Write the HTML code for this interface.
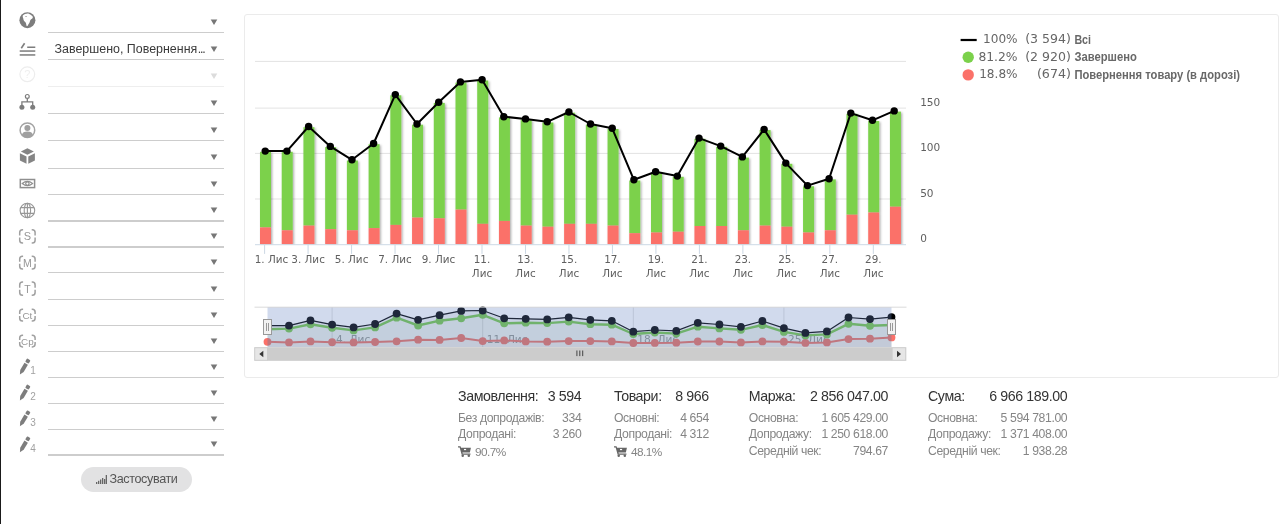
<!DOCTYPE html>
<html lang="uk"><head><meta charset="utf-8"><title>Статистика</title>
<style>
html,body{margin:0;padding:0;background:#fff}
body{width:1280px;height:524px;position:relative;overflow:hidden;font-family:"Liberation Sans",sans-serif;color:#333}
.edge{position:absolute;left:0;top:0;width:1px;height:524px;background:#1a1a1a}
.panel{position:absolute;left:244px;top:14px;width:1033px;height:362px;border:1px solid #ebebeb;border-radius:3px;background:#fff}
.ln{position:absolute;left:48px;width:176px;height:1.2px}
.ar{position:absolute;left:209.7px}
.sel{position:absolute;left:54.5px;top:40.5px;width:156px;font-size:12.45px;line-height:16px;color:#3a3a3a;white-space:nowrap;overflow:hidden}
.btn{position:absolute;left:81.2px;top:466.9px;width:110.7px;height:25.6px;border-radius:12.8px;background:#e2e2e3}
.btn span{position:absolute;left:28.3px;top:5.2px;letter-spacing:-0.38px;font-size:12.6px;line-height:14px;color:#555;white-space:nowrap}
.st{position:absolute;white-space:nowrap}
.h{font-size:14.2px;line-height:16px;color:#333;letter-spacing:-0.4px}
.s{font-size:12.2px;line-height:14px;color:#858585;letter-spacing:-0.38px}
.p{letter-spacing:-0.5px;font-size:11.8px;margin-top:0.8px}
.r{text-align:right}
.ic{position:absolute}
</style></head><body>
<div class="edge"></div>
<div class="panel"></div>
<svg width="1280" height="524" viewBox="0 0 1280 524" style="position:absolute;left:0;top:0">
<defs><filter id="sh" x="-50%" y="-10%" width="220%" height="120%"><feDropShadow dx="1.2" dy="1" stdDeviation="1.1" flood-color="#000" flood-opacity="0.33"/></filter></defs>
<rect x="255" y="60.9" width="651" height="1" fill="#e3e3e3"/>
<rect x="255" y="107.6" width="651" height="1" fill="#e3e3e3"/>
<rect x="255" y="152.9" width="651" height="1" fill="#e3e3e3"/>
<rect x="255" y="198.5" width="651" height="1" fill="#e3e3e3"/>
<clipPath id="pc"><rect x="250" y="55" width="660" height="189.70000000000002"/></clipPath><g clip-path="url(#pc)"><g filter="url(#sh)">
<rect x="260.00" y="151.8" width="11.0" height="75.6" fill="#7bd14b"/>
<rect x="260.00" y="227.4" width="11.0" height="16.9" fill="#fb7169"/>
<rect x="281.72" y="151.8" width="11.0" height="78.5" fill="#7bd14b"/>
<rect x="281.72" y="230.3" width="11.0" height="14.0" fill="#fb7169"/>
<rect x="303.44" y="127.2" width="11.0" height="98.4" fill="#7bd14b"/>
<rect x="303.44" y="225.6" width="11.0" height="18.7" fill="#fb7169"/>
<rect x="325.17" y="147.1" width="11.0" height="82.1" fill="#7bd14b"/>
<rect x="325.17" y="229.2" width="11.0" height="15.1" fill="#fb7169"/>
<rect x="346.89" y="160.5" width="11.0" height="69.8" fill="#7bd14b"/>
<rect x="346.89" y="230.3" width="11.0" height="14.0" fill="#fb7169"/>
<rect x="368.61" y="144.2" width="11.0" height="83.9" fill="#7bd14b"/>
<rect x="368.61" y="228.1" width="11.0" height="16.2" fill="#fb7169"/>
<rect x="390.33" y="95.3" width="11.0" height="129.6" fill="#7bd14b"/>
<rect x="390.33" y="224.9" width="11.0" height="19.4" fill="#fb7169"/>
<rect x="412.05" y="124.7" width="11.0" height="92.9" fill="#7bd14b"/>
<rect x="412.05" y="217.6" width="11.0" height="26.7" fill="#fb7169"/>
<rect x="433.78" y="102.9" width="11.0" height="115.4" fill="#7bd14b"/>
<rect x="433.78" y="218.3" width="11.0" height="26.0" fill="#fb7169"/>
<rect x="455.50" y="82.6" width="11.0" height="127.0" fill="#7bd14b"/>
<rect x="455.50" y="209.6" width="11.0" height="34.7" fill="#fb7169"/>
<rect x="477.22" y="80.5" width="11.0" height="143.3" fill="#7bd14b"/>
<rect x="477.22" y="223.8" width="11.0" height="20.5" fill="#fb7169"/>
<rect x="498.94" y="117.4" width="11.0" height="103.5" fill="#7bd14b"/>
<rect x="498.94" y="220.9" width="11.0" height="23.4" fill="#fb7169"/>
<rect x="520.66" y="119.6" width="11.0" height="106.0" fill="#7bd14b"/>
<rect x="520.66" y="225.6" width="11.0" height="18.7" fill="#fb7169"/>
<rect x="542.39" y="122.5" width="11.0" height="104.2" fill="#7bd14b"/>
<rect x="542.39" y="226.7" width="11.0" height="17.6" fill="#fb7169"/>
<rect x="564.11" y="112.7" width="11.0" height="111.1" fill="#7bd14b"/>
<rect x="564.11" y="223.8" width="11.0" height="20.5" fill="#fb7169"/>
<rect x="585.83" y="124.7" width="11.0" height="99.1" fill="#7bd14b"/>
<rect x="585.83" y="223.8" width="11.0" height="20.5" fill="#fb7169"/>
<rect x="607.55" y="129.0" width="11.0" height="96.6" fill="#7bd14b"/>
<rect x="607.55" y="225.6" width="11.0" height="18.7" fill="#fb7169"/>
<rect x="629.27" y="180.5" width="11.0" height="52.7" fill="#7bd14b"/>
<rect x="629.27" y="233.2" width="11.0" height="11.1" fill="#fb7169"/>
<rect x="651.00" y="172.5" width="11.0" height="60.0" fill="#7bd14b"/>
<rect x="651.00" y="232.5" width="11.0" height="11.8" fill="#fb7169"/>
<rect x="672.72" y="176.8" width="11.0" height="54.9" fill="#7bd14b"/>
<rect x="672.72" y="231.7" width="11.0" height="12.6" fill="#fb7169"/>
<rect x="694.44" y="138.8" width="11.0" height="87.2" fill="#7bd14b"/>
<rect x="694.44" y="226.0" width="11.0" height="18.3" fill="#fb7169"/>
<rect x="716.16" y="146.8" width="11.0" height="79.2" fill="#7bd14b"/>
<rect x="716.16" y="226.0" width="11.0" height="18.3" fill="#fb7169"/>
<rect x="737.88" y="157.6" width="11.0" height="72.7" fill="#7bd14b"/>
<rect x="737.88" y="230.3" width="11.0" height="14.0" fill="#fb7169"/>
<rect x="759.61" y="130.1" width="11.0" height="95.5" fill="#7bd14b"/>
<rect x="759.61" y="225.6" width="11.0" height="18.7" fill="#fb7169"/>
<rect x="781.33" y="163.8" width="11.0" height="62.9" fill="#7bd14b"/>
<rect x="781.33" y="226.7" width="11.0" height="17.6" fill="#fb7169"/>
<rect x="803.05" y="186.3" width="11.0" height="46.2" fill="#7bd14b"/>
<rect x="803.05" y="232.5" width="11.0" height="11.8" fill="#fb7169"/>
<rect x="824.77" y="179.4" width="11.0" height="50.9" fill="#7bd14b"/>
<rect x="824.77" y="230.3" width="11.0" height="14.0" fill="#fb7169"/>
<rect x="846.49" y="113.8" width="11.0" height="100.9" fill="#7bd14b"/>
<rect x="846.49" y="214.7" width="11.0" height="29.6" fill="#fb7169"/>
<rect x="868.22" y="121.0" width="11.0" height="91.5" fill="#7bd14b"/>
<rect x="868.22" y="212.5" width="11.0" height="31.8" fill="#fb7169"/>
<rect x="889.94" y="111.6" width="11.0" height="95.1" fill="#7bd14b"/>
<rect x="889.94" y="206.7" width="11.0" height="37.6" fill="#fb7169"/>
</g></g>
<rect x="255" y="244.20000000000002" width="651" height="1" fill="#cdd9e5"/>
<rect x="264.10" y="244.70000000000002" width="1" height="9.2" fill="#ccd8e4"/>
<rect x="307.58" y="244.70000000000002" width="1" height="9.2" fill="#ccd8e4"/>
<rect x="351.06" y="244.70000000000002" width="1" height="9.2" fill="#ccd8e4"/>
<rect x="394.54" y="244.70000000000002" width="1" height="9.2" fill="#ccd8e4"/>
<rect x="438.02" y="244.70000000000002" width="1" height="9.2" fill="#ccd8e4"/>
<rect x="481.50" y="244.70000000000002" width="1" height="9.2" fill="#ccd8e4"/>
<rect x="524.98" y="244.70000000000002" width="1" height="9.2" fill="#ccd8e4"/>
<rect x="568.46" y="244.70000000000002" width="1" height="9.2" fill="#ccd8e4"/>
<rect x="611.94" y="244.70000000000002" width="1" height="9.2" fill="#ccd8e4"/>
<rect x="655.42" y="244.70000000000002" width="1" height="9.2" fill="#ccd8e4"/>
<rect x="698.90" y="244.70000000000002" width="1" height="9.2" fill="#ccd8e4"/>
<rect x="742.38" y="244.70000000000002" width="1" height="9.2" fill="#ccd8e4"/>
<rect x="785.86" y="244.70000000000002" width="1" height="9.2" fill="#ccd8e4"/>
<rect x="829.34" y="244.70000000000002" width="1" height="9.2" fill="#ccd8e4"/>
<rect x="872.82" y="244.70000000000002" width="1" height="9.2" fill="#ccd8e4"/>
<polyline points="265.2,151.1 286.9,151.1 308.6,126.5 330.3,146.4 352.0,159.8 373.6,143.5 395.3,94.6 417.0,124.0 438.7,102.2 460.4,81.9 482.1,79.8 503.8,116.7 525.5,118.9 547.2,121.8 568.9,112.0 590.5,124.0 612.2,128.3 633.9,179.8 655.6,171.8 677.3,176.1 699.0,138.1 720.7,146.1 742.4,156.9 764.1,129.4 785.8,163.1 807.5,185.6 829.1,178.7 850.8,113.1 872.5,120.3 894.2,110.9" fill="none" stroke="#000" stroke-width="2" stroke-linejoin="round"/>
<circle cx="265.2" cy="151.1" r="3.7" fill="#000"/>
<circle cx="286.9" cy="151.1" r="3.7" fill="#000"/>
<circle cx="308.6" cy="126.5" r="3.7" fill="#000"/>
<circle cx="330.3" cy="146.4" r="3.7" fill="#000"/>
<circle cx="352.0" cy="159.8" r="3.7" fill="#000"/>
<circle cx="373.6" cy="143.5" r="3.7" fill="#000"/>
<circle cx="395.3" cy="94.6" r="3.7" fill="#000"/>
<circle cx="417.0" cy="124.0" r="3.7" fill="#000"/>
<circle cx="438.7" cy="102.2" r="3.7" fill="#000"/>
<circle cx="460.4" cy="81.9" r="3.7" fill="#000"/>
<circle cx="482.1" cy="79.8" r="3.7" fill="#000"/>
<circle cx="503.8" cy="116.7" r="3.7" fill="#000"/>
<circle cx="525.5" cy="118.9" r="3.7" fill="#000"/>
<circle cx="547.2" cy="121.8" r="3.7" fill="#000"/>
<circle cx="568.9" cy="112.0" r="3.7" fill="#000"/>
<circle cx="590.5" cy="124.0" r="3.7" fill="#000"/>
<circle cx="612.2" cy="128.3" r="3.7" fill="#000"/>
<circle cx="633.9" cy="179.8" r="3.7" fill="#000"/>
<circle cx="655.6" cy="171.8" r="3.7" fill="#000"/>
<circle cx="677.3" cy="176.1" r="3.7" fill="#000"/>
<circle cx="699.0" cy="138.1" r="3.7" fill="#000"/>
<circle cx="720.7" cy="146.1" r="3.7" fill="#000"/>
<circle cx="742.4" cy="156.9" r="3.7" fill="#000"/>
<circle cx="764.1" cy="129.4" r="3.7" fill="#000"/>
<circle cx="785.8" cy="163.1" r="3.7" fill="#000"/>
<circle cx="807.5" cy="185.6" r="3.7" fill="#000"/>
<circle cx="829.1" cy="178.7" r="3.7" fill="#000"/>
<circle cx="850.8" cy="113.1" r="3.7" fill="#000"/>
<circle cx="872.5" cy="120.3" r="3.7" fill="#000"/>
<circle cx="894.2" cy="110.9" r="3.7" fill="#000"/>
<g font-family="'DejaVu Sans','Liberation Sans',sans-serif" font-size="10.4" fill="#606060" text-anchor="middle">
<text x="271.5" y="262.5">1. Лис</text>
<text x="308.1" y="262.5">3. Лис</text>
<text x="351.6" y="262.5">5. Лис</text>
<text x="395.0" y="262.5">7. Лис</text>
<text x="438.5" y="262.5">9. Лис</text>
<text x="482.0" y="262.5">11.</text><text x="482.0" y="276.5">Лис</text>
<text x="525.5" y="262.5">13.</text><text x="525.5" y="276.5">Лис</text>
<text x="569.0" y="262.5">15.</text><text x="569.0" y="276.5">Лис</text>
<text x="612.4" y="262.5">17.</text><text x="612.4" y="276.5">Лис</text>
<text x="655.9" y="262.5">19.</text><text x="655.9" y="276.5">Лис</text>
<text x="699.4" y="262.5">21.</text><text x="699.4" y="276.5">Лис</text>
<text x="742.9" y="262.5">23.</text><text x="742.9" y="276.5">Лис</text>
<text x="786.4" y="262.5">25.</text><text x="786.4" y="276.5">Лис</text>
<text x="829.8" y="262.5">27.</text><text x="829.8" y="276.5">Лис</text>
<text x="873.3" y="262.5">29.</text><text x="873.3" y="276.5">Лис</text>
</g>
<g font-family="'DejaVu Sans','Liberation Sans',sans-serif" font-size="10.5" fill="#606060">
<text x="920.2" y="105.5">150</text>
<text x="920.2" y="150.7">100</text>
<text x="920.2" y="196.5">50</text>
<text x="920.2" y="241.8">0</text>
</g>
<g font-family="'DejaVu Sans','Liberation Sans',sans-serif" font-size="10.6" fill="#999">
<rect x="331.6" y="307" width="1" height="40" fill="#e0e0e0"/>
<text x="336.1" y="343.2">4. Лис</text>
<rect x="482.2" y="307" width="1" height="40" fill="#e0e0e0"/>
<text x="486.7" y="343.2">11. Лис</text>
<rect x="632.8" y="307" width="1" height="40" fill="#e0e0e0"/>
<text x="637.3" y="343.2">18. Лис</text>
<rect x="783.4" y="307" width="1" height="40" fill="#e0e0e0"/>
<text x="787.9" y="343.2">25. Лис</text>
</g>
<polygon points="267.5,347.2 267.5,341.8 289.0,342.4 310.5,341.4 332.1,342.2 353.6,342.4 375.1,342.0 396.6,341.3 418.1,339.7 439.6,339.9 461.2,338.0 482.7,341.1 504.2,340.4 525.7,341.4 547.2,341.7 568.7,341.1 590.3,341.1 611.8,341.4 633.3,343.0 654.8,342.9 676.3,342.7 697.8,341.5 719.4,341.5 740.9,342.4 762.4,341.4 783.9,341.7 805.4,342.9 826.9,342.4 848.5,339.1 870.0,338.7 891.5,337.4 891.5,347.2" fill="#fb7169" fill-opacity="0.05"/>
<polyline points="267.5,341.8 289.0,342.4 310.5,341.4 332.1,342.2 353.6,342.4 375.1,342.0 396.6,341.3 418.1,339.7 439.6,339.9 461.2,338.0 482.7,341.1 504.2,340.4 525.7,341.4 547.2,341.7 568.7,341.1 590.3,341.1 611.8,341.4 633.3,343.0 654.8,342.9 676.3,342.7 697.8,341.5 719.4,341.5 740.9,342.4 762.4,341.4 783.9,341.7 805.4,342.9 826.9,342.4 848.5,339.1 870.0,338.7 891.5,337.4" fill="none" stroke="#fb7169" stroke-width="2" stroke-linejoin="round"/>
<circle cx="267.5" cy="341.8" r="3.9" fill="#fb7169"/>
<circle cx="289.0" cy="342.4" r="3.9" fill="#fb7169"/>
<circle cx="310.5" cy="341.4" r="3.9" fill="#fb7169"/>
<circle cx="332.1" cy="342.2" r="3.9" fill="#fb7169"/>
<circle cx="353.6" cy="342.4" r="3.9" fill="#fb7169"/>
<circle cx="375.1" cy="342.0" r="3.9" fill="#fb7169"/>
<circle cx="396.6" cy="341.3" r="3.9" fill="#fb7169"/>
<circle cx="418.1" cy="339.7" r="3.9" fill="#fb7169"/>
<circle cx="439.6" cy="339.9" r="3.9" fill="#fb7169"/>
<circle cx="461.2" cy="338.0" r="3.9" fill="#fb7169"/>
<circle cx="482.7" cy="341.1" r="3.9" fill="#fb7169"/>
<circle cx="504.2" cy="340.4" r="3.9" fill="#fb7169"/>
<circle cx="525.7" cy="341.4" r="3.9" fill="#fb7169"/>
<circle cx="547.2" cy="341.7" r="3.9" fill="#fb7169"/>
<circle cx="568.7" cy="341.1" r="3.9" fill="#fb7169"/>
<circle cx="590.3" cy="341.1" r="3.9" fill="#fb7169"/>
<circle cx="611.8" cy="341.4" r="3.9" fill="#fb7169"/>
<circle cx="633.3" cy="343.0" r="3.9" fill="#fb7169"/>
<circle cx="654.8" cy="342.9" r="3.9" fill="#fb7169"/>
<circle cx="676.3" cy="342.7" r="3.9" fill="#fb7169"/>
<circle cx="697.8" cy="341.5" r="3.9" fill="#fb7169"/>
<circle cx="719.4" cy="341.5" r="3.9" fill="#fb7169"/>
<circle cx="740.9" cy="342.4" r="3.9" fill="#fb7169"/>
<circle cx="762.4" cy="341.4" r="3.9" fill="#fb7169"/>
<circle cx="783.9" cy="341.7" r="3.9" fill="#fb7169"/>
<circle cx="805.4" cy="342.9" r="3.9" fill="#fb7169"/>
<circle cx="826.9" cy="342.4" r="3.9" fill="#fb7169"/>
<circle cx="848.5" cy="339.1" r="3.9" fill="#fb7169"/>
<circle cx="870.0" cy="338.7" r="3.9" fill="#fb7169"/>
<circle cx="891.5" cy="337.4" r="3.9" fill="#fb7169"/>
<polygon points="267.5,347.2 267.5,329.2 289.0,328.6 310.5,324.3 332.1,327.8 353.6,330.4 375.1,327.4 396.6,317.7 418.1,325.5 439.6,320.7 461.2,318.3 482.7,314.8 504.2,323.3 525.7,322.7 547.2,323.1 568.7,321.6 590.3,324.2 611.8,324.7 633.3,334.0 654.8,332.5 676.3,333.6 697.8,326.7 719.4,328.4 740.9,329.8 762.4,325.0 783.9,331.9 805.4,335.4 826.9,334.4 848.5,323.8 870.0,325.8 891.5,325.0 891.5,347.2" fill="#7bd14b" fill-opacity="0.05"/>
<polyline points="267.5,329.2 289.0,328.6 310.5,324.3 332.1,327.8 353.6,330.4 375.1,327.4 396.6,317.7 418.1,325.5 439.6,320.7 461.2,318.3 482.7,314.8 504.2,323.3 525.7,322.7 547.2,323.1 568.7,321.6 590.3,324.2 611.8,324.7 633.3,334.0 654.8,332.5 676.3,333.6 697.8,326.7 719.4,328.4 740.9,329.8 762.4,325.0 783.9,331.9 805.4,335.4 826.9,334.4 848.5,323.8 870.0,325.8 891.5,325.0" fill="none" stroke="#7bd14b" stroke-width="2.4" stroke-linejoin="round"/>
<circle cx="267.5" cy="329.2" r="3.9" fill="#7bd14b"/>
<circle cx="289.0" cy="328.6" r="3.9" fill="#7bd14b"/>
<circle cx="310.5" cy="324.3" r="3.9" fill="#7bd14b"/>
<circle cx="332.1" cy="327.8" r="3.9" fill="#7bd14b"/>
<circle cx="353.6" cy="330.4" r="3.9" fill="#7bd14b"/>
<circle cx="375.1" cy="327.4" r="3.9" fill="#7bd14b"/>
<circle cx="396.6" cy="317.7" r="3.9" fill="#7bd14b"/>
<circle cx="418.1" cy="325.5" r="3.9" fill="#7bd14b"/>
<circle cx="439.6" cy="320.7" r="3.9" fill="#7bd14b"/>
<circle cx="461.2" cy="318.3" r="3.9" fill="#7bd14b"/>
<circle cx="482.7" cy="314.8" r="3.9" fill="#7bd14b"/>
<circle cx="504.2" cy="323.3" r="3.9" fill="#7bd14b"/>
<circle cx="525.7" cy="322.7" r="3.9" fill="#7bd14b"/>
<circle cx="547.2" cy="323.1" r="3.9" fill="#7bd14b"/>
<circle cx="568.7" cy="321.6" r="3.9" fill="#7bd14b"/>
<circle cx="590.3" cy="324.2" r="3.9" fill="#7bd14b"/>
<circle cx="611.8" cy="324.7" r="3.9" fill="#7bd14b"/>
<circle cx="633.3" cy="334.0" r="3.9" fill="#7bd14b"/>
<circle cx="654.8" cy="332.5" r="3.9" fill="#7bd14b"/>
<circle cx="676.3" cy="333.6" r="3.9" fill="#7bd14b"/>
<circle cx="697.8" cy="326.7" r="3.9" fill="#7bd14b"/>
<circle cx="719.4" cy="328.4" r="3.9" fill="#7bd14b"/>
<circle cx="740.9" cy="329.8" r="3.9" fill="#7bd14b"/>
<circle cx="762.4" cy="325.0" r="3.9" fill="#7bd14b"/>
<circle cx="783.9" cy="331.9" r="3.9" fill="#7bd14b"/>
<circle cx="805.4" cy="335.4" r="3.9" fill="#7bd14b"/>
<circle cx="826.9" cy="334.4" r="3.9" fill="#7bd14b"/>
<circle cx="848.5" cy="323.8" r="3.9" fill="#7bd14b"/>
<circle cx="870.0" cy="325.8" r="3.9" fill="#7bd14b"/>
<circle cx="891.5" cy="325.0" r="3.9" fill="#7bd14b"/>
<polygon points="267.5,347.2 267.5,325.6 289.0,325.6 310.5,320.4 332.1,324.6 353.6,327.4 375.1,324.0 396.6,313.6 418.1,319.8 439.6,315.2 461.2,310.9 482.7,310.5 504.2,318.3 525.7,318.8 547.2,319.4 568.7,317.3 590.3,319.8 611.8,320.8 633.3,331.7 654.8,330.0 676.3,330.9 697.8,322.8 719.4,324.5 740.9,326.8 762.4,321.0 783.9,328.1 805.4,332.9 826.9,331.4 848.5,317.5 870.0,319.1 891.5,317.1 891.5,347.2" fill="#000" fill-opacity="0.05"/>
<polyline points="267.5,325.6 289.0,325.6 310.5,320.4 332.1,324.6 353.6,327.4 375.1,324.0 396.6,313.6 418.1,319.8 439.6,315.2 461.2,310.9 482.7,310.5 504.2,318.3 525.7,318.8 547.2,319.4 568.7,317.3 590.3,319.8 611.8,320.8 633.3,331.7 654.8,330.0 676.3,330.9 697.8,322.8 719.4,324.5 740.9,326.8 762.4,321.0 783.9,328.1 805.4,332.9 826.9,331.4 848.5,317.5 870.0,319.1 891.5,317.1" fill="none" stroke="#000" stroke-width="1.2" stroke-linejoin="round"/>
<circle cx="267.5" cy="325.6" r="3.9" fill="#000"/>
<circle cx="289.0" cy="325.6" r="3.9" fill="#000"/>
<circle cx="310.5" cy="320.4" r="3.9" fill="#000"/>
<circle cx="332.1" cy="324.6" r="3.9" fill="#000"/>
<circle cx="353.6" cy="327.4" r="3.9" fill="#000"/>
<circle cx="375.1" cy="324.0" r="3.9" fill="#000"/>
<circle cx="396.6" cy="313.6" r="3.9" fill="#000"/>
<circle cx="418.1" cy="319.8" r="3.9" fill="#000"/>
<circle cx="439.6" cy="315.2" r="3.9" fill="#000"/>
<circle cx="461.2" cy="310.9" r="3.9" fill="#000"/>
<circle cx="482.7" cy="310.5" r="3.9" fill="#000"/>
<circle cx="504.2" cy="318.3" r="3.9" fill="#000"/>
<circle cx="525.7" cy="318.8" r="3.9" fill="#000"/>
<circle cx="547.2" cy="319.4" r="3.9" fill="#000"/>
<circle cx="568.7" cy="317.3" r="3.9" fill="#000"/>
<circle cx="590.3" cy="319.8" r="3.9" fill="#000"/>
<circle cx="611.8" cy="320.8" r="3.9" fill="#000"/>
<circle cx="633.3" cy="331.7" r="3.9" fill="#000"/>
<circle cx="654.8" cy="330.0" r="3.9" fill="#000"/>
<circle cx="676.3" cy="330.9" r="3.9" fill="#000"/>
<circle cx="697.8" cy="322.8" r="3.9" fill="#000"/>
<circle cx="719.4" cy="324.5" r="3.9" fill="#000"/>
<circle cx="740.9" cy="326.8" r="3.9" fill="#000"/>
<circle cx="762.4" cy="321.0" r="3.9" fill="#000"/>
<circle cx="783.9" cy="328.1" r="3.9" fill="#000"/>
<circle cx="805.4" cy="332.9" r="3.9" fill="#000"/>
<circle cx="826.9" cy="331.4" r="3.9" fill="#000"/>
<circle cx="848.5" cy="317.5" r="3.9" fill="#000"/>
<circle cx="870.0" cy="319.1" r="3.9" fill="#000"/>
<circle cx="891.5" cy="317.1" r="3.9" fill="#000"/>
<rect x="267.5" y="307" width="624.0" height="40.2" fill="rgba(102,133,194,0.3)"/>
<rect x="254.5" y="306.7" width="652" height="0.9" fill="#d6d6d6"/>
<rect x="254.5" y="347.2" width="652" height="13.6" fill="#f2f2f2"/>
<rect x="267.5" y="347.2" width="624.5" height="13.6" fill="#ccc"/>
<rect x="254.7" y="347.7" width="12.8" height="12.6" fill="#e6e6e6" stroke="#ccc" stroke-width="1"/>
<rect x="892.2" y="347.7" width="13.5" height="12.6" fill="#e6e6e6" stroke="#ccc" stroke-width="1"/>
<path d="M259.3 354 L263.3 350.8 L263.3 357.2 Z" fill="#333"/>
<path d="M901 354 L897 350.8 L897 357.2 Z" fill="#333"/>
<rect x="576.4" y="350.5" width="1" height="5.6" fill="#444"/>
<rect x="579.3" y="350.5" width="1" height="5.6" fill="#444"/>
<rect x="582.2" y="350.5" width="1" height="5.6" fill="#444"/>
<rect x="263.5" y="319.5" width="8" height="15" fill="#f2f2f2" stroke="#999" stroke-width="1"/>
<rect x="266.0" y="323" width="1" height="8" fill="#999"/><rect x="268.0" y="323" width="1" height="8" fill="#999"/>
<rect x="887.5" y="319.5" width="8" height="15" fill="#f2f2f2" stroke="#999" stroke-width="1"/>
<rect x="890.0" y="323" width="1" height="8" fill="#999"/><rect x="892.0" y="323" width="1" height="8" fill="#999"/>
<rect x="960.6" y="38.9" width="16.1" height="2.2" fill="#000"/>
<circle cx="968.2" cy="57.3" r="5.7" fill="#7bd14b"/>
<circle cx="968.2" cy="74.9" r="5.7" fill="#fb7169"/>
<g font-family="'DejaVu Sans','Liberation Sans',sans-serif" font-size="11.5" fill="#666">
<text x="983.0" y="43.2" textLength="34.6" lengthAdjust="spacingAndGlyphs">100%</text>
<text x="1025.2" y="43.2" textLength="45.8" lengthAdjust="spacingAndGlyphs">(3 594)</text>
<text x="978.4" y="60.6" textLength="39.2" lengthAdjust="spacingAndGlyphs">81.2%</text>
<text x="1025.2" y="60.6" textLength="45.8" lengthAdjust="spacingAndGlyphs">(2 920)</text>
<text x="979.2" y="78.2" textLength="38.4" lengthAdjust="spacingAndGlyphs">18.8%</text>
<text x="1036.9" y="78.2" textLength="34.1" lengthAdjust="spacingAndGlyphs">(674)</text>
</g>
<g font-family="'Liberation Sans',sans-serif" font-size="12" font-weight="bold" fill="#686868">
<text x="1074.4" y="43.5" textLength="16.6" lengthAdjust="spacingAndGlyphs">Всі</text>
<text x="1074.4" y="60.9" textLength="62.4" lengthAdjust="spacingAndGlyphs">Завершено</text>
<text x="1074.4" y="78.5" textLength="165.6" lengthAdjust="spacingAndGlyphs">Повернення товару (в дорозі)</text>
</g>
</svg>
<div class="ln" style="top:32.1px;background:#cdcdcd"></div>
<svg class="ar" style="top:19.0px" width="8" height="7" viewBox="0 0 8 7"><path d="M0.7 0.4h6.600L4 6z" fill="#777"/></svg>
<div class="ln" style="top:59.0px;background:#cdcdcd"></div>
<svg class="ar" style="top:45.9px" width="8" height="7" viewBox="0 0 8 7"><path d="M0.7 0.4h6.600L4 6z" fill="#777"/></svg>
<div class="ln" style="top:86.3px;background:#eeeeee"></div>
<svg class="ar" style="top:73.2px" width="8" height="7" viewBox="0 0 8 7"><path d="M0.7 0.4h6.600L4 6z" fill="#dcdcdc"/></svg>
<div class="ln" style="top:112.7px;background:#cdcdcd"></div>
<svg class="ar" style="top:99.6px" width="8" height="7" viewBox="0 0 8 7"><path d="M0.7 0.4h6.600L4 6z" fill="#777"/></svg>
<div class="ln" style="top:140.2px;background:#cdcdcd"></div>
<svg class="ar" style="top:127.1px" width="8" height="7" viewBox="0 0 8 7"><path d="M0.7 0.4h6.600L4 6z" fill="#777"/></svg>
<div class="ln" style="top:167.5px;background:#cdcdcd"></div>
<svg class="ar" style="top:154.4px" width="8" height="7" viewBox="0 0 8 7"><path d="M0.7 0.4h6.600L4 6z" fill="#777"/></svg>
<div class="ln" style="top:194.2px;background:#cdcdcd"></div>
<svg class="ar" style="top:181.1px" width="8" height="7" viewBox="0 0 8 7"><path d="M0.7 0.4h6.600L4 6z" fill="#777"/></svg>
<div class="ln" style="top:220.4px;background:#cdcdcd"></div>
<svg class="ar" style="top:207.3px" width="8" height="7" viewBox="0 0 8 7"><path d="M0.7 0.4h6.600L4 6z" fill="#777"/></svg>
<div class="ln" style="top:246.4px;background:#cdcdcd"></div>
<svg class="ar" style="top:233.3px" width="8" height="7" viewBox="0 0 8 7"><path d="M0.7 0.4h6.600L4 6z" fill="#777"/></svg>
<div class="ln" style="top:272.3px;background:#cdcdcd"></div>
<svg class="ar" style="top:259.2px" width="8" height="7" viewBox="0 0 8 7"><path d="M0.7 0.4h6.600L4 6z" fill="#777"/></svg>
<div class="ln" style="top:298.6px;background:#cdcdcd"></div>
<svg class="ar" style="top:285.5px" width="8" height="7" viewBox="0 0 8 7"><path d="M0.7 0.4h6.600L4 6z" fill="#777"/></svg>
<div class="ln" style="top:324.7px;background:#cdcdcd"></div>
<svg class="ar" style="top:311.6px" width="8" height="7" viewBox="0 0 8 7"><path d="M0.7 0.4h6.600L4 6z" fill="#777"/></svg>
<div class="ln" style="top:350.8px;background:#cdcdcd"></div>
<svg class="ar" style="top:337.7px" width="8" height="7" viewBox="0 0 8 7"><path d="M0.7 0.4h6.600L4 6z" fill="#777"/></svg>
<div class="ln" style="top:377.2px;background:#cdcdcd"></div>
<svg class="ar" style="top:364.1px" width="8" height="7" viewBox="0 0 8 7"><path d="M0.7 0.4h6.600L4 6z" fill="#777"/></svg>
<div class="ln" style="top:402.9px;background:#cdcdcd"></div>
<svg class="ar" style="top:389.8px" width="8" height="7" viewBox="0 0 8 7"><path d="M0.7 0.4h6.600L4 6z" fill="#777"/></svg>
<div class="ln" style="top:428.8px;background:#cdcdcd"></div>
<svg class="ar" style="top:415.7px" width="8" height="7" viewBox="0 0 8 7"><path d="M0.7 0.4h6.600L4 6z" fill="#777"/></svg>
<div class="ln" style="top:454.4px;background:#cdcdcd"></div>
<svg class="ar" style="top:441.3px" width="8" height="7" viewBox="0 0 8 7"><path d="M0.7 0.4h6.600L4 6z" fill="#777"/></svg>
<svg width="60" height="524" viewBox="0 0 60 524" style="position:absolute;left:0;top:0">
<circle cx="27.4" cy="20.2" r="8" fill="#7d7d7d"/>
<path d="M22.8 15.600C24 14 26.500 13.300 28.300 13.500C29.500 14.500 31 14.500 31.800 15.800C33 16.500 33.200 17.800 32.300 18.500C31.300 19.200 30.300 19.800 30 21C29.800 22.500 29 23.500 28.300 24.500C27.800 25.600 27.200 26.500 26.600 26C26.200 24.800 26.300 23.500 25.600 22.500C24.800 21.600 23.800 21 23.500 19.800C23.600 18.500 22.300 17.200 22.800 15.600z" fill="#fff"/>
<path d="M25 16.200c0.800-0.500 1.600-0.300 2.200 0.200-0.500 0.600-1.400 0.800-2.200-0.200z" fill="#999"/>
<g fill="#7d7d7d"><rect x="27.2" y="46.5" width="8.1" height="1.5"/><rect x="19.7" y="50.3" width="15.6" height="1.5"/><rect x="19.7" y="54.2" width="15.6" height="1.5"/></g>
<path d="M21.3 48.2L24.6 43.2" stroke="#7d7d7d" stroke-width="1.6" fill="none"/>
<circle cx="27.3" cy="74.3" r="7.4" fill="none" stroke="#ededed" stroke-width="1.2"/>
<text x="27.3" y="78.2" font-family="'Liberation Sans',sans-serif" font-size="11" fill="#efefef" text-anchor="middle">?</text>
<circle cx="27.3" cy="96.4" r="1.9" fill="#fff" stroke="#7d7d7d" stroke-width="1.2"/>
<path d="M27.3 98.4V101.8M21.9 105V101.8H32.7V105" fill="none" stroke="#7d7d7d" stroke-width="1.3"/>
<circle cx="21.9" cy="107.2" r="2.5" fill="#7d7d7d"/><circle cx="32.7" cy="107.2" r="2.5" fill="#7d7d7d"/>
<circle cx="27.4" cy="130.2" r="7.3" fill="none" stroke="#a3a3a3" stroke-width="1.5"/>
<circle cx="27.4" cy="127.900" r="3" fill="#a0a0a0"/>
<path d="M21.900 135.200c0.300-2.600 2.500-3.700 5.500-3.700s5.200 1.100 5.500 3.700c-1.500 1.500-3.300 2.300-5.500 2.300s-4-0.800-5.500-2.300z" fill="#a0a0a0"/>
<g fill="#858585"><path d="M27.4 148.300L33.900 151.500L27.400 154.700L20.900 151.500z"/><path d="M19.900 153.200L26.500 156.500V163.800L19.900 160.400z"/><path d="M34.900 153.200L28.300 156.500V163.800L34.900 160.400z"/></g>
<rect x="20.300" y="179.500" width="14.300" height="8.100" fill="none" stroke="#8f8f8f" stroke-width="1.500"/>
<path d="M22.200 183.550Q27.400 179.300 32.600 183.550Q27.400 187.800 22.200 183.550z" fill="none" stroke="#8f8f8f" stroke-width="1.100"/>
<circle cx="27.4" cy="183.55" r="1.700" fill="none" stroke="#8f8f8f" stroke-width="1.200"/>
<g fill="none" stroke="#979797" stroke-width="1.1"><circle cx="27.4" cy="210.5" r="7.3"/><ellipse cx="27.4" cy="210.5" rx="3.2" ry="7.3"/><path d="M20.8 207.600H34M20.8 213.400H34M27.4 203.200V217.800"/></g>
<path d="M23.099999999999998 229.70000000000002H22.5Q19.7 229.70000000000002 19.7 232.50000000000003V235.4M31.700000000000003 229.70000000000002H32.300000000000004Q35.1 229.70000000000002 35.1 232.50000000000003V235.4M23.099999999999998 243.1H22.5Q19.7 243.1 19.7 240.29999999999998V237.4M31.700000000000003 243.1H32.300000000000004Q35.1 243.1 35.1 240.29999999999998V237.4" fill="none" stroke="#a0a0a0" stroke-width="1.5"/>
<text x="27.4" y="240.4" font-family="'Liberation Sans',sans-serif" font-size="11" fill="#979797" text-anchor="middle">S</text>
<path d="M23.099999999999998 256.3H22.5Q19.7 256.3 19.7 259.1V261.7M31.700000000000003 256.3H32.300000000000004Q35.1 256.3 35.1 259.1V261.7M23.099999999999998 269.09999999999997H22.5Q19.7 269.09999999999997 19.7 266.29999999999995V263.7M31.700000000000003 269.09999999999997H32.300000000000004Q35.1 269.09999999999997 35.1 266.29999999999995V263.7" fill="none" stroke="#a0a0a0" stroke-width="1.5"/>
<text x="27.4" y="266.5" font-family="'Liberation Sans',sans-serif" font-size="10.5" fill="#979797" text-anchor="middle">M</text>
<path d="M23.099999999999998 282.09999999999997H22.5Q19.7 282.09999999999997 19.7 284.9V287.7M31.700000000000003 282.09999999999997H32.300000000000004Q35.1 282.09999999999997 35.1 284.9V287.7M23.099999999999998 295.3H22.5Q19.7 295.3 19.7 292.5V289.7M31.700000000000003 295.3H32.300000000000004Q35.1 295.3 35.1 292.5V289.7" fill="none" stroke="#a0a0a0" stroke-width="1.5"/>
<text x="27.4" y="292.5" font-family="'Liberation Sans',sans-serif" font-size="10.5" fill="#979797" text-anchor="middle">T</text>
<path d="M23.099999999999998 309.20000000000005H22.5Q19.7 309.20000000000005 19.7 312.00000000000006V314.1M31.700000000000003 309.20000000000005H32.300000000000004Q35.1 309.20000000000005 35.1 312.00000000000006V314.1M23.099999999999998 321.0H22.5Q19.7 321.0 19.7 318.2V316.1M31.700000000000003 321.0H32.300000000000004Q35.1 321.0 35.1 318.2V316.1" fill="none" stroke="#a0a0a0" stroke-width="1.5"/>
<text x="27.4" y="318.7" font-family="'Liberation Sans',sans-serif" font-size="9.9" fill="#979797" text-anchor="middle">Ct</text>
<path d="M23.099999999999998 335.3H22.5Q19.7 335.3 19.7 338.1V340.1M31.700000000000003 335.3H32.300000000000004Q35.1 335.3 35.1 338.1V340.1M23.099999999999998 346.90000000000003H22.5Q19.7 346.90000000000003 19.7 344.1V342.1M31.700000000000003 346.90000000000003H32.300000000000004Q35.1 346.90000000000003 35.1 344.1V342.1" fill="none" stroke="#a0a0a0" stroke-width="1.5"/>
<text x="27.4" y="344.7" font-family="'Liberation Sans',sans-serif" font-size="9.9" fill="#979797" text-anchor="middle">Cp</text>
<g transform="translate(19.9 374.40000000000003) rotate(-59.3)"><path d="M0 0L4-2H12.300V2H4z" fill="#7d7d7d"/><rect x="13.6" y="-2" width="3.9" height="4" rx="0.9" fill="#7d7d7d"/></g>
<text x="30.2" y="374.3" font-family="'Liberation Sans',sans-serif" font-size="10" fill="#a2a2a2">1</text>
<g transform="translate(19.9 400.40000000000003) rotate(-59.3)"><path d="M0 0L4-2H12.300V2H4z" fill="#7d7d7d"/><rect x="13.6" y="-2" width="3.9" height="4" rx="0.9" fill="#7d7d7d"/></g>
<text x="30.2" y="400.3" font-family="'Liberation Sans',sans-serif" font-size="10" fill="#a2a2a2">2</text>
<g transform="translate(19.9 426.2) rotate(-59.3)"><path d="M0 0L4-2H12.300V2H4z" fill="#7d7d7d"/><rect x="13.6" y="-2" width="3.9" height="4" rx="0.9" fill="#7d7d7d"/></g>
<text x="30.2" y="426.1" font-family="'Liberation Sans',sans-serif" font-size="10" fill="#a2a2a2">3</text>
<g transform="translate(19.9 452.2) rotate(-59.3)"><path d="M0 0L4-2H12.300V2H4z" fill="#7d7d7d"/><rect x="13.6" y="-2" width="3.9" height="4" rx="0.9" fill="#7d7d7d"/></g>
<text x="30.2" y="452.1" font-family="'Liberation Sans',sans-serif" font-size="10" fill="#a2a2a2">4</text>
</svg>
<div class="sel">Завершено, Повернення<span style="letter-spacing:-1.1px;margin-left:0.4px">...</span></div>
<div class="btn"><svg style="position:absolute;left:15px;top:8px" width="11" height="9" viewBox="0 0 11 9"><g fill="#666"><rect x="0" y="7" width="1.3" height="2"/><rect x="2" y="5.8" width="1.3" height="3.2"/><rect x="4" y="4.5" width="1.3" height="4.5"/><rect x="6" y="3" width="1.3" height="6"/><rect x="8" y="4" width="1.3" height="5"/><rect x="9.7" y="0" width="1.3" height="9"/></g></svg><span>Застосувати</span></div>
<div class="st h" style="left:458px;top:387.5px">Замовлення:</div>
<div class="st h r" style="right:698.7px;top:387.5px">3 594</div>
<div class="st s" style="left:458px;top:410.7px">Без допродажів:</div>
<div class="st s r" style="right:698.7px;top:410.7px">334</div>
<div class="st s" style="left:458px;top:427.2px">Допродані:</div>
<div class="st s r" style="right:698.7px;top:427.2px">3 260</div>
<svg class="ic" style="left:458px;top:446.1px" width="13.5" height="11" viewBox="0 0 14 12" preserveAspectRatio="none"><path d="M0 0.3h2.6l0.6 1.7h10.2l-1.1 5.2H4.6l0.3 1.1h8v1.2H3.8L1.7 1.6H0z" fill="#666"/><circle cx="4.9" cy="10.6" r="1.3" fill="#666"/><circle cx="11.2" cy="10.6" r="1.3" fill="#666"/><rect x="6.2" y="3.2" width="2.2" height="1.3" fill="#fff"/></svg>
<div class="st s p" style="left:474.9px;top:444.0px">90.7%</div>
<div class="st h" style="left:614px;top:387.5px">Товари:</div>
<div class="st h r" style="right:571.2px;top:387.5px">8 966</div>
<div class="st s" style="left:614px;top:410.7px">Основні:</div>
<div class="st s r" style="right:571.2px;top:410.7px">4 654</div>
<div class="st s" style="left:614px;top:427.2px">Допродані:</div>
<div class="st s r" style="right:571.2px;top:427.2px">4 312</div>
<svg class="ic" style="left:614px;top:446.1px" width="13.5" height="11" viewBox="0 0 14 12" preserveAspectRatio="none"><path d="M0 0.3h2.6l0.6 1.7h10.2l-1.1 5.2H4.6l0.3 1.1h8v1.2H3.8L1.7 1.6H0z" fill="#666"/><circle cx="4.9" cy="10.6" r="1.3" fill="#666"/><circle cx="11.2" cy="10.6" r="1.3" fill="#666"/><rect x="6.2" y="3.2" width="2.2" height="1.3" fill="#fff"/></svg>
<div class="st s p" style="left:630.9px;top:444.0px">48.1%</div>
<div class="st h" style="left:748.8px;top:387.5px">Маржа:</div>
<div class="st h r" style="right:392.0px;top:387.5px">2 856 047.00</div>
<div class="st s" style="left:748.8px;top:410.7px">Основна:</div>
<div class="st s r" style="right:392.0px;top:410.7px">1 605 429.00</div>
<div class="st s" style="left:748.8px;top:427.2px">Допродажу:</div>
<div class="st s r" style="right:392.0px;top:427.2px">1 250 618.00</div>
<div class="st s" style="left:748.8px;top:444.0px">Середній чек:</div>
<div class="st s r" style="right:392.0px;top:444.0px">794.67</div>
<div class="st h" style="left:928px;top:387.5px">Сума:</div>
<div class="st h r" style="right:212.8px;top:387.5px">6 966 189.00</div>
<div class="st s" style="left:928px;top:410.7px">Основна:</div>
<div class="st s r" style="right:212.8px;top:410.7px">5 594 781.00</div>
<div class="st s" style="left:928px;top:427.2px">Допродажу:</div>
<div class="st s r" style="right:212.8px;top:427.2px">1 371 408.00</div>
<div class="st s" style="left:928px;top:444.0px">Середній чек:</div>
<div class="st s r" style="right:212.8px;top:444.0px">1 938.28</div>
</body></html>
